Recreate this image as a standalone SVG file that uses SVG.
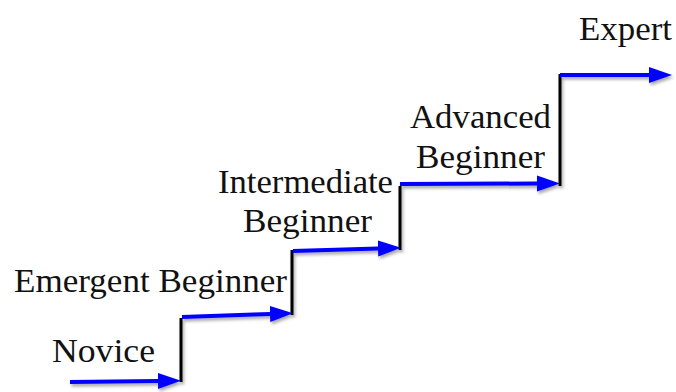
<svg xmlns="http://www.w3.org/2000/svg" width="676" height="392" viewBox="0 0 676 392">
<style>
.lbl{font-family:"Liberation Serif","Times New Roman",serif;font-size:34px;fill:#111}
.step{stroke:#000;stroke-width:3;fill:none}
.arr{stroke:#0000ff;stroke-width:4;fill:none;marker-end:url(#ah)}
</style>
<defs>
<marker id="ah" markerUnits="userSpaceOnUse" markerWidth="24" markerHeight="18" refX="0" refY="8" orient="auto">
<path d="M0,0 L23,8 L0,16 Z" fill="#0000ff"/>
</marker>
<filter id="sh" x="-10%" y="-10%" width="130%" height="140%">
<feDropShadow dx="1.5" dy="2.5" stdDeviation="1.5" flood-color="#000" flood-opacity="0.35"/>
</filter>
</defs>
<rect width="676" height="392" fill="#fff"/>
<g id="connectors" filter="url(#sh)">
<line class="step" x1="181" y1="318" x2="181" y2="382"/>
<line class="step" x1="292" y1="250" x2="292" y2="315"/>
<line class="step" x1="400" y1="186" x2="400" y2="250"/>
<line class="step" x1="560" y1="74" x2="560" y2="186"/>
<path class="arr" d="M70,382 L158,381"/>
<path class="arr" d="M182,317 L270,314"/>
<path class="arr" d="M293,251 L378,248.5"/>
<path class="arr" d="M400,184 L537,183.5"/>
<path class="arr" d="M560,75 L649,75"/>
</g>
<g id="novice"><text class="lbl" x="52" y="362" textLength="103" lengthAdjust="spacingAndGlyphs">Novice</text></g>
<g id="emergent"><text class="lbl" x="14" y="292" textLength="273" lengthAdjust="spacingAndGlyphs">Emergent Beginner</text></g>
<g id="intermediate">
<text class="lbl" x="218" y="193" textLength="175" lengthAdjust="spacingAndGlyphs">Intermediate</text>
<text class="lbl" x="243" y="232" textLength="129" lengthAdjust="spacingAndGlyphs">Beginner</text>
</g>
<g id="advanced">
<text class="lbl" x="410" y="128" textLength="141" lengthAdjust="spacingAndGlyphs">Advanced</text>
<text class="lbl" x="416" y="168" textLength="129" lengthAdjust="spacingAndGlyphs">Beginner</text>
</g>
<g id="expert"><text class="lbl" x="579" y="40" textLength="93" lengthAdjust="spacingAndGlyphs">Expert</text></g>
</svg>
